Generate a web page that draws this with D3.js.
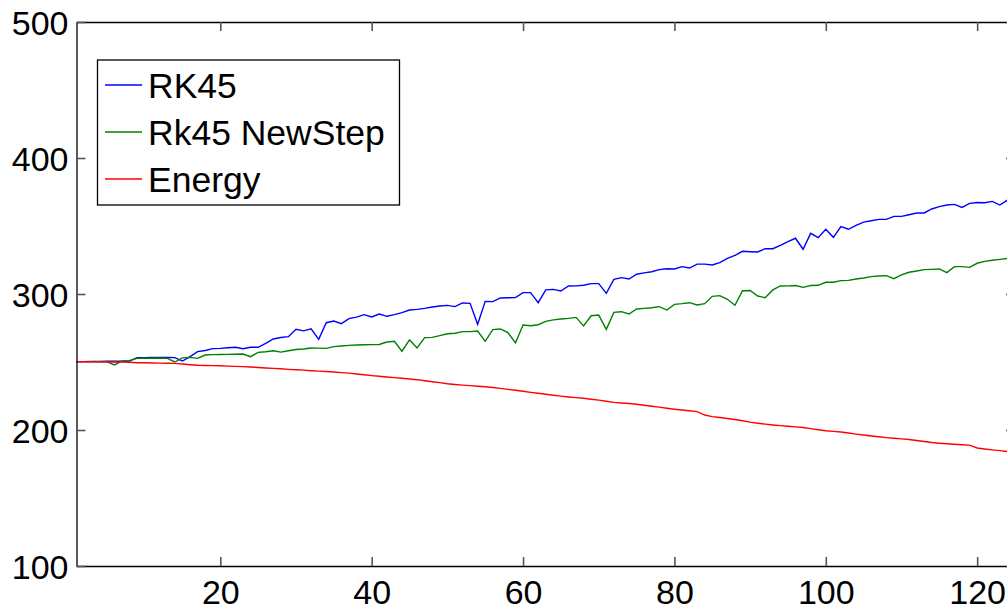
<!DOCTYPE html>
<html>
<head>
<meta charset="utf-8">
<script src="https://cdn.jsdelivr.net/npm/d3@7"></script>
<style>
  html, body { margin: 0; padding: 0; background: #fff; overflow: hidden; }
  svg { display: block; font-family: "Liberation Sans", Arial, Helvetica, sans-serif; }
</style>
</head>
<body>
<svg id="chart" width="1007" height="612"></svg>
<script>
// Step index 1..125 for each integrator run
const rk45 = [
  250.3, 250.3, 250.4, 250.4, 250.5, 250.5, 250.6, 250.7, 253.2, 253.2,
  253.3, 253.3, 253.3, 253.2, 250.7, 253.9, 257.6, 258.5, 259.8, 260.0,
  260.5, 260.8, 259.8, 260.8, 260.8, 263.7, 266.9, 268.0, 268.6, 274.0,
  272.9, 274.4, 266.7, 278.9, 280.1, 278.2, 281.9, 283.0, 284.8, 283.1,
  285.3, 283.6, 284.8, 286.3, 288.2, 288.7, 289.4, 290.4, 291.2, 291.6,
  290.7, 293.4, 293.1, 277.7, 294.6, 294.4, 297.1, 297.2, 297.3, 301.0,
  301.0, 293.6, 303.0, 303.4, 302.2, 305.9, 306.0, 306.4, 307.6, 307.6,
  300.5, 310.8, 312.0, 311.0, 314.5, 315.5, 316.4, 317.9, 318.6, 318.4,
  320.1, 319.1, 322.0, 322.0, 321.3, 323.0, 326.2, 328.4, 331.4, 331.1,
  330.9, 333.3, 333.3, 335.8, 338.5, 341.0, 332.9, 344.6, 341.4, 347.6,
  341.7, 349.5, 347.6, 350.5, 352.9, 353.9, 354.9, 354.9, 357.1, 357.1,
  358.3, 359.6, 359.6, 362.5, 364.2, 365.4, 365.9, 363.7, 366.6, 367.3,
  367.1, 368.1, 365.4, 369.1, 371.0
];

const rk45NewStep = [
  250.3, 250.3, 250.3, 250.3, 250.3, 247.8, 250.7, 251.0, 252.7, 252.8,
  252.8, 252.9, 252.7, 250.0, 253.0, 253.4, 252.7, 255.1, 255.4, 255.5,
  255.6, 255.7, 255.9, 253.9, 257.1, 257.5, 258.3, 257.3, 258.3, 259.2,
  259.6, 260.3, 260.2, 260.0, 261.3, 261.8, 262.2, 262.5, 262.7, 262.8,
  262.9, 264.7, 265.2, 257.9, 266.2, 260.3, 267.9, 268.1, 269.4, 270.8,
  271.1, 272.3, 272.3, 272.8, 265.2, 273.8, 274.3, 271.6, 264.0, 277.2,
  276.7, 277.4, 279.9, 281.0, 281.6, 282.1, 282.8, 276.5, 284.0, 284.5,
  274.0, 286.5, 287.0, 285.3, 289.0, 289.4, 289.9, 290.7, 288.2, 292.4,
  292.9, 293.6, 291.9, 292.9, 298.3, 298.8, 296.1, 291.7, 302.4, 302.6,
  298.5, 297.3, 303.0, 305.9, 306.0, 306.2, 304.9, 306.2, 306.4, 308.6,
  308.6, 309.8, 310.0, 311.0, 311.8, 312.8, 313.2, 313.5, 311.3, 314.0,
  316.0, 316.9, 317.9, 318.1, 318.4, 315.7, 320.1, 320.1, 319.6, 322.6,
  324.0, 324.8, 325.5, 326.2, 327.0
];

const energy = [
  250.2, 250.2, 250.1, 250.1, 250.0, 250.0, 249.9, 249.8, 249.5, 249.4,
  249.3, 249.2, 249.1, 249.0, 248.5, 248.0, 247.6, 247.4, 247.3, 247.2,
  247.0, 246.8, 246.6, 246.3, 246.0, 245.6, 245.3, 245.0, 244.6, 244.3,
  244.0, 243.6, 243.3, 243.0, 242.6, 242.2, 241.8, 241.2, 240.6, 240.0,
  239.5, 239.0, 238.5, 238.0, 237.5, 237.0, 236.2, 235.5, 234.8, 234.0,
  233.5, 233.0, 232.6, 232.2, 231.8, 231.3, 230.6, 229.9, 229.2, 228.5,
  227.7, 227.0, 226.3, 225.6, 224.9, 224.3, 223.8, 223.3, 222.6, 222.0,
  221.1, 220.3, 219.9, 219.5, 218.9, 218.2, 217.5, 216.8, 216.0, 215.3,
  214.7, 214.2, 213.5, 211.0, 209.8, 209.2, 208.5, 207.7, 206.8, 205.8,
  205.0, 204.3, 203.7, 203.2, 202.8, 202.3, 201.8, 201.0, 200.2, 199.5,
  199.0, 198.5, 197.8, 197.0, 196.3, 195.6, 195.0, 194.4, 193.9, 193.5,
  193.0, 192.3, 191.5, 190.8, 190.3, 189.9, 189.5, 189.2, 188.9, 186.8,
  186.0, 185.4, 184.8, 184.1, 183.6
];

const seriesNames = ["RK45", "Rk45 NewStep", "Energy"];
const seriesColors = ["#0000ff", "#008000", "#ff0000"];
const xTicks = [20, 40, 60, 80, 100, 120];
const yTicks = [100, 200, 300, 400, 500];

const svg = d3.select("#chart");

// Plot box (right edge runs just past the window)
const plotLeft = 76.5, plotTop = 22, plotBottom = 566, plotRight = 1015;

const x = d3.scaleLinear().domain([1, 125]).range([plotLeft, plotRight]);
const y = d3.scaleLinear().domain([100, 500]).range([plotBottom, plotTop]);

const allSeries = [rk45, rk45NewStep, energy];

// Lines
const line = d3.line()
  .x((d, i) => x(i + 1))
  .y(d => y(d));

svg.append("g")
  .selectAll("path")
  .data(allSeries)
  .join("path")
  .attr("d", d => line(d))
  .attr("fill", "none")
  .attr("stroke", (d, i) => seriesColors[i])
  .attr("stroke-width", 1.4)
  .attr("stroke-linejoin", "miter");

// Axes with inward ticks (box style)
const tickLen = 9;
const fontSize = 34;

const xAxisBottom = d3.axisBottom(x).tickValues(xTicks).tickSizeInner(-tickLen).tickSizeOuter(0).tickPadding(14).tickFormat(d3.format("d"));
const xAxisTop = d3.axisTop(x).tickValues(xTicks).tickSizeInner(-tickLen).tickSizeOuter(0).tickFormat("");
const yAxisLeft = d3.axisLeft(y).tickValues(yTicks).tickSizeInner(-tickLen).tickSizeOuter(0).tickPadding(8).tickFormat(d3.format("d"));
const yAxisRight = d3.axisRight(y).tickValues(yTicks).tickSizeInner(-tickLen).tickSizeOuter(0).tickFormat("");

function styleAxis(g) {
  g.select(".domain").attr("stroke", "#000").attr("stroke-width", 1.3);
  g.selectAll(".tick line").attr("stroke", "#555").attr("stroke-width", 1.6);
  g.selectAll(".tick text")
    .attr("fill", "#000")
    .style("font-size", fontSize + "px")
    .style("font-family", "'Liberation Sans', Arial, Helvetica, sans-serif");
}

svg.append("g").attr("transform", `translate(0,${plotBottom})`).call(xAxisBottom).call(styleAxis)
  .selectAll(".tick text").attr("dy", "0.71em");
svg.append("g").attr("transform", `translate(0,${plotTop})`).call(xAxisTop).call(styleAxis);
svg.append("g").attr("transform", `translate(${plotLeft},0)`).call(yAxisLeft).call(styleAxis)
  .selectAll(".tick text").attr("dy", "0.36em");
svg.append("g").attr("transform", `translate(${plotRight},0)`).call(yAxisRight).call(styleAxis);

// Legend
const legend = svg.append("g");
legend.append("rect")
  .attr("x", 97.5).attr("y", 60)
  .attr("width", 302).attr("height", 145)
  .attr("fill", "#fff")
  .attr("stroke", "#000")
  .attr("stroke-width", 1.3);

const rowY = [85, 132, 179];
const rows = legend.selectAll("g.row")
  .data(seriesNames)
  .join("g")
  .attr("class", "row")
  .attr("transform", (d, i) => `translate(0,${rowY[i]})`);

rows.append("line")
  .attr("x1", 105).attr("x2", 142)
  .attr("y1", 0).attr("y2", 0)
  .attr("stroke", (d, i) => seriesColors[i])
  .attr("stroke-width", 1.4);

rows.append("text")
  .attr("x", 148)
  .attr("y", 12.5)
  .style("font-size", "35.5px")
  .attr("fill", "#000")
  .text(d => d);
</script>
</body>
</html>
